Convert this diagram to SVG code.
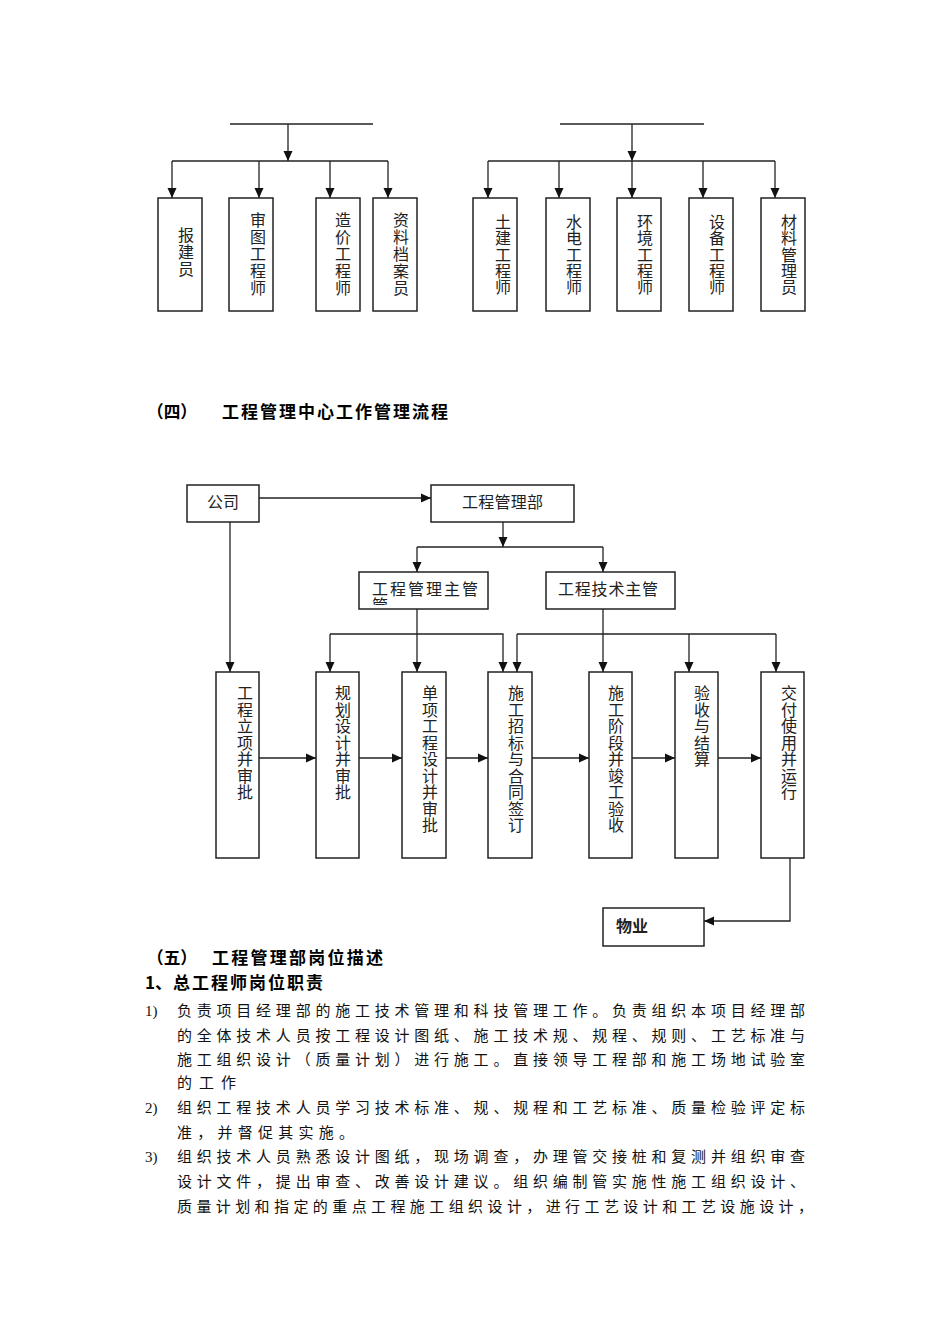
<svg xmlns="http://www.w3.org/2000/svg" width="950" height="1344" viewBox="0 0 950 1344">
<style>
.bx{fill:#fff;stroke:#222;stroke-width:1.5}
.ln{fill:none;stroke:#222;stroke-width:1.3}
.ar{fill:none;stroke:#222;stroke-width:1.3;marker-end:url(#ah)}
.t{font-family:"Noto Sans CJK SC","Noto Sans",sans-serif;font-size:16px;fill:#222}
.v{font-family:"Noto Sans CJK SC","Noto Sans",sans-serif;font-size:16px;fill:#222;writing-mode:vertical-rl}
.v1{letter-spacing:1px}
.v2{letter-spacing:0.3px}
.v3{letter-spacing:0.5px}
.h{font-family:"Noto Sans CJK SC","Noto Sans",sans-serif;font-size:17px;font-weight:bold;fill:#000}
.b{font-family:"Noto Sans CJK SC","Noto Sans",sans-serif;font-size:15px;fill:#111}
.n{font-family:"Liberation Serif","Noto Sans CJK SC",serif;font-size:15px;fill:#111}
</style>
<defs>
<marker id="ah" markerUnits="userSpaceOnUse" markerWidth="10" markerHeight="10" refX="10" refY="5" orient="auto">
<path d="M0,0.5 L10,5 L0,9.5 z" fill="#111"/>
</marker>
<clipPath id="clipG"><rect x="360" y="573" width="127" height="32"/></clipPath>
</defs>

<g id="connectors">
<path class="ln" d="M230,124 H373"/>
<path class="ar" d="M288,124 V161"/>
<path class="ln" d="M172,161 H388"/>
<path class="ar" d="M172,161 V198"/>
<path class="ar" d="M259,161 V198"/>
<path class="ar" d="M330,161 V198"/>
<path class="ar" d="M388,161 V198"/>
<path class="ln" d="M560,124 H704"/>
<path class="ar" d="M632,124 V161"/>
<path class="ln" d="M488,161 H775"/>
<path class="ar" d="M488,161 V198"/>
<path class="ar" d="M559,161 V198"/>
<path class="ar" d="M632,161 V198"/>
<path class="ar" d="M703,161 V198"/>
<path class="ar" d="M775,161 V198"/>
<path class="ar" d="M259,498 H431"/>
<path class="ar" d="M230,522 V672"/>
<path class="ar" d="M503,522 V547"/>
<path class="ln" d="M417,547 H603"/>
<path class="ar" d="M417,547 V572"/>
<path class="ar" d="M603,547 V572"/>
<path class="ar" d="M417,609 V672"/>
<path class="ar" d="M330,634 V672"/>
<path class="ar" d="M330,634 H503 V672"/>
<path class="ar" d="M603,609 V672"/>
<path class="ar" d="M517,634 V672"/>
<path class="ln" d="M517,634 H776"/>
<path class="ar" d="M689,634 V672"/>
<path class="ar" d="M776,634 V672"/>
<path class="ar" d="M259,758 H316"/>
<path class="ar" d="M359,758 H402"/>
<path class="ar" d="M446,758 H488"/>
<path class="ar" d="M532,758 H589"/>
<path class="ar" d="M632,758 H675"/>
<path class="ar" d="M718,758 H761"/>
<path class="ar" d="M790,858 V921 H704"/>
</g>

<g id="n-baojianyuan"><rect class="bx" x="158" y="198" width="44" height="113"/>
<text class="v v1" x="186" y="227">报建员</text></g>
<g id="n-shentu"><rect class="bx" x="229" y="198" width="44" height="113"/>
<text class="v v1" x="258" y="212">审图工程师</text></g>
<g id="n-zaojia"><rect class="bx" x="316" y="198" width="44" height="113"/>
<text class="v v1" x="343" y="212">造价工程师</text></g>
<g id="n-ziliao"><rect class="bx" x="373" y="198" width="44" height="113"/>
<text class="v v1" x="401" y="212">资料档案员</text></g>

<g id="n-tujian"><rect class="bx" x="473" y="198" width="44" height="113"/>
<text class="v v2" x="503" y="214">土建工程师</text></g>
<g id="n-shuidian"><rect class="bx" x="546" y="198" width="44" height="113"/>
<text class="v v2" x="574" y="214">水电工程师</text></g>
<g id="n-huanjing"><rect class="bx" x="617" y="198" width="44" height="113"/>
<text class="v v2" x="645" y="214">环境工程师</text></g>
<g id="n-shebei"><rect class="bx" x="689" y="198" width="44" height="113"/>
<text class="v v2" x="717" y="214">设备工程师</text></g>
<g id="n-cailiao"><rect class="bx" x="761" y="198" width="44" height="113"/>
<text class="v v2" x="789" y="214">材料管理员</text></g>

<g id="heading4">
<text class="h" x="147" y="418" textLength="50" lengthAdjust="spacingAndGlyphs">（四）</text>
<text class="h" x="222" y="418" textLength="226" lengthAdjust="spacing">工程管理中心工作管理流程</text>
</g>

<g id="n-gongsi"><rect class="bx" x="187" y="485" width="72" height="37"/>
<text class="t" x="207" y="508" font-size="15">公司</text></g>
<g id="n-gcglb"><rect class="bx" x="431" y="485" width="143" height="37"/>
<text class="t" x="462" y="508" textLength="81" lengthAdjust="spacing">工程管理部</text></g>
<g id="n-glzg"><rect class="bx" x="359" y="572" width="129" height="37"/>
<text class="t" x="372" y="595" textLength="106" lengthAdjust="spacing">工程管理主管</text>
<text class="t" x="372" y="611" font-size="14" clip-path="url(#clipG)">管</text></g>
<g id="n-jszg"><rect class="bx" x="546" y="572" width="129" height="37"/>
<text class="t" x="558" y="595" textLength="100" lengthAdjust="spacing">工程技术主管</text></g>

<g id="n-lixiang"><rect class="bx" x="216" y="672" width="43" height="186"/>
<text class="v v3" x="245" y="685">工程立项并审批</text></g>
<g id="n-guihua"><rect class="bx" x="316" y="672" width="43" height="186"/>
<text class="v v3" x="343" y="685">规划设计并审批</text></g>
<g id="n-danxiang"><rect class="bx" x="402" y="672" width="44" height="186"/>
<text class="v v3" x="430" y="685">单项工程设计并审批</text></g>
<g id="n-zhaobiao"><rect class="bx" x="488" y="672" width="44" height="186"/>
<text class="v v3" x="516" y="685">施工招标与合同签订</text></g>
<g id="n-shigong"><rect class="bx" x="589" y="672" width="43" height="186"/>
<text class="v v3" x="616" y="685">施工阶段并竣工验收</text></g>
<g id="n-yanshou"><rect class="bx" x="675" y="672" width="43" height="186"/>
<text class="v v3" x="702" y="685">验收与结算</text></g>
<g id="n-jiaofu"><rect class="bx" x="761" y="672" width="43" height="186"/>
<text class="v v3" x="789" y="685">交付使用并运行</text></g>
<g id="n-wuye"><rect class="bx" x="603" y="908" width="101" height="38"/>
<text class="t" x="616" y="932" font-size="15" font-weight="bold">物业</text></g>

<g id="section5">
<text class="h" x="147" y="964" textLength="50" lengthAdjust="spacingAndGlyphs">（五）</text>
<text class="h" x="212" y="964" textLength="171" lengthAdjust="spacing">工程管理部岗位描述</text>
<text class="h" x="145" y="989">1、</text>
<text class="h" x="173" y="989" textLength="150" lengthAdjust="spacing">总工程师岗位职责</text>
<text class="n" x="145" y="1016">1)</text>
<text class="b" x="177" y="1016" textLength="628" lengthAdjust="spacing">负责项目经理部的施工技术管理和科技管理工作。负责组织本项目经理部</text>
<text class="b" x="177" y="1041" textLength="628" lengthAdjust="spacing">的全体技术人员按工程设计图纸、施工技术规、规程、规则、工艺标准与</text>
<text class="b" x="177" y="1065" textLength="628" lengthAdjust="spacing">施工组织设计（质量计划）进行施工。直接领导工程部和施工场地试验室</text>
<text class="b" x="177" y="1088" textLength="59" lengthAdjust="spacing">的工作</text>
<text class="n" x="145" y="1113">2)</text>
<text class="b" x="177" y="1113" textLength="628" lengthAdjust="spacing">组织工程技术人员学习技术标准、规、规程和工艺标准、质量检验评定标</text>
<text class="b" x="177" y="1138" textLength="177" lengthAdjust="spacing">准，并督促其实施。</text>
<text class="n" x="145" y="1162">3)</text>
<text class="b" x="177" y="1162" textLength="628" lengthAdjust="spacing">组织技术人员熟悉设计图纸，现场调查，办理管交接桩和复测并组织审查</text>
<text class="b" x="177" y="1187" textLength="628" lengthAdjust="spacing">设计文件，提出审查、改善设计建议。组织编制管实施性施工组织设计、</text>
<text class="b" x="177" y="1212" textLength="636" lengthAdjust="spacing">质量计划和指定的重点工程施工组织设计，进行工艺设计和工艺设施设计，</text>
</g>
</svg>
